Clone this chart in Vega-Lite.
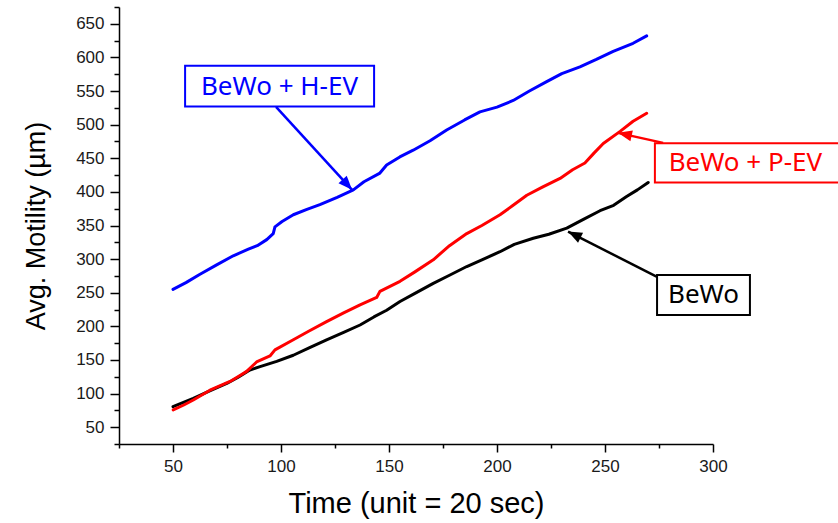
{
  "$schema": "https://vega.github.io/schema/vega-lite/v6.json",
  "width": 594,
  "height": 437,
  "autosize": "none",
  "padding": {"left": 119, "top": 7, "right": 125, "bottom": 79},
  "background": "white",
  "config": {
    "view": {"stroke": null},
    "axis": {
      "grid": false,
      "domainColor": "black",
      "domainWidth": 1.5,
      "tickColor": "black",
      "tickWidth": 1.5,
      "labelFont": "Liberation Sans",
      "labelFontSize": 17,
      "labelColor": "#1a1a1a",
      "labelOverlap": false,
      "titleFont": "Liberation Sans",
      "titleFontWeight": "normal",
      "titleColor": "black"
    }
  },
  "resolve": {"axis": {"x": "independent", "y": "independent"}},
  "datasets": {
    "series": [
      {"series": "BeWo", "t": 50, "v": 80.5},
      {"series": "BeWo", "t": 59.4, "v": 93},
      {"series": "BeWo", "t": 67, "v": 104},
      {"series": "BeWo", "t": 74.9, "v": 115},
      {"series": "BeWo", "t": 80, "v": 124},
      {"series": "BeWo", "t": 85.6, "v": 135},
      {"series": "BeWo", "t": 90.3, "v": 140},
      {"series": "BeWo", "t": 98, "v": 148},
      {"series": "BeWo", "t": 105.7, "v": 157},
      {"series": "BeWo", "t": 113, "v": 168},
      {"series": "BeWo", "t": 121.1, "v": 180},
      {"series": "BeWo", "t": 129, "v": 191},
      {"series": "BeWo", "t": 136.6, "v": 202},
      {"series": "BeWo", "t": 143, "v": 214},
      {"series": "BeWo", "t": 148.9, "v": 224},
      {"series": "BeWo", "t": 155.1, "v": 237},
      {"series": "BeWo", "t": 162, "v": 249},
      {"series": "BeWo", "t": 170.5, "v": 264},
      {"series": "BeWo", "t": 178, "v": 276},
      {"series": "BeWo", "t": 186, "v": 289},
      {"series": "BeWo", "t": 193, "v": 299},
      {"series": "BeWo", "t": 201.4, "v": 311},
      {"series": "BeWo", "t": 208, "v": 322},
      {"series": "BeWo", "t": 216.8, "v": 331},
      {"series": "BeWo", "t": 224, "v": 337},
      {"series": "BeWo", "t": 232.3, "v": 346},
      {"series": "BeWo", "t": 240, "v": 359},
      {"series": "BeWo", "t": 247.7, "v": 372},
      {"series": "BeWo", "t": 254, "v": 380},
      {"series": "BeWo", "t": 260, "v": 393},
      {"series": "BeWo", "t": 265, "v": 403},
      {"series": "BeWo", "t": 270, "v": 414},
      {"series": "BeWo + P-EV", "t": 50.1, "v": 75.6},
      {"series": "BeWo + P-EV", "t": 55, "v": 83},
      {"series": "BeWo + P-EV", "t": 59.4, "v": 90.5},
      {"series": "BeWo + P-EV", "t": 67.1, "v": 105},
      {"series": "BeWo + P-EV", "t": 76.4, "v": 118},
      {"series": "BeWo + P-EV", "t": 81, "v": 127},
      {"series": "BeWo + P-EV", "t": 84.1, "v": 133},
      {"series": "BeWo + P-EV", "t": 88.7, "v": 147},
      {"series": "BeWo + P-EV", "t": 94.9, "v": 156},
      {"series": "BeWo + P-EV", "t": 97.2, "v": 165},
      {"series": "BeWo + P-EV", "t": 105.7, "v": 180},
      {"series": "BeWo + P-EV", "t": 113, "v": 193},
      {"series": "BeWo + P-EV", "t": 121.1, "v": 207},
      {"series": "BeWo + P-EV", "t": 129, "v": 220},
      {"series": "BeWo + P-EV", "t": 136.6, "v": 232},
      {"series": "BeWo + P-EV", "t": 144.3, "v": 243},
      {"series": "BeWo + P-EV", "t": 145.8, "v": 252},
      {"series": "BeWo + P-EV", "t": 155.1, "v": 267},
      {"series": "BeWo + P-EV", "t": 162, "v": 281},
      {"series": "BeWo + P-EV", "t": 170.5, "v": 299},
      {"series": "BeWo + P-EV", "t": 178, "v": 320},
      {"series": "BeWo + P-EV", "t": 186, "v": 338},
      {"series": "BeWo + P-EV", "t": 193, "v": 350},
      {"series": "BeWo + P-EV", "t": 201.4, "v": 366},
      {"series": "BeWo + P-EV", "t": 207, "v": 379},
      {"series": "BeWo + P-EV", "t": 213.8, "v": 395},
      {"series": "BeWo + P-EV", "t": 221, "v": 407},
      {"series": "BeWo + P-EV", "t": 229.2, "v": 420},
      {"series": "BeWo + P-EV", "t": 235, "v": 433},
      {"series": "BeWo + P-EV", "t": 240.7, "v": 443},
      {"series": "BeWo + P-EV", "t": 245, "v": 458},
      {"series": "BeWo + P-EV", "t": 249.2, "v": 472},
      {"series": "BeWo + P-EV", "t": 257, "v": 490},
      {"series": "BeWo + P-EV", "t": 263, "v": 505},
      {"series": "BeWo + P-EV", "t": 269.3, "v": 517},
      {"series": "BeWo + H-EV", "t": 50, "v": 255},
      {"series": "BeWo + H-EV", "t": 56, "v": 265},
      {"series": "BeWo + H-EV", "t": 62.5, "v": 277.5},
      {"series": "BeWo + H-EV", "t": 70, "v": 291},
      {"series": "BeWo + H-EV", "t": 77.9, "v": 305},
      {"series": "BeWo + H-EV", "t": 84.9, "v": 314.7},
      {"series": "BeWo + H-EV", "t": 89, "v": 320},
      {"series": "BeWo + H-EV", "t": 93.4, "v": 329},
      {"series": "BeWo + H-EV", "t": 96.4, "v": 338},
      {"series": "BeWo + H-EV", "t": 97.2, "v": 348},
      {"series": "BeWo + H-EV", "t": 100.5, "v": 356},
      {"series": "BeWo + H-EV", "t": 105.7, "v": 366},
      {"series": "BeWo + H-EV", "t": 112, "v": 374},
      {"series": "BeWo + H-EV", "t": 118, "v": 381},
      {"series": "BeWo + H-EV", "t": 126, "v": 392},
      {"series": "BeWo + H-EV", "t": 133.5, "v": 403},
      {"series": "BeWo + H-EV", "t": 138.4, "v": 415},
      {"series": "BeWo + H-EV", "t": 145.8, "v": 428},
      {"series": "BeWo + H-EV", "t": 148.9, "v": 440},
      {"series": "BeWo + H-EV", "t": 155, "v": 452},
      {"series": "BeWo + H-EV", "t": 161.2, "v": 462},
      {"series": "BeWo + H-EV", "t": 169, "v": 476},
      {"series": "BeWo + H-EV", "t": 176.7, "v": 492},
      {"series": "BeWo + H-EV", "t": 185, "v": 507},
      {"series": "BeWo + H-EV", "t": 192.1, "v": 519},
      {"series": "BeWo + H-EV", "t": 200, "v": 526},
      {"series": "BeWo + H-EV", "t": 207.5, "v": 536},
      {"series": "BeWo + H-EV", "t": 215, "v": 550},
      {"series": "BeWo + H-EV", "t": 223, "v": 564},
      {"series": "BeWo + H-EV", "t": 230, "v": 576},
      {"series": "BeWo + H-EV", "t": 238.4, "v": 586},
      {"series": "BeWo + H-EV", "t": 246, "v": 597},
      {"series": "BeWo + H-EV", "t": 253.8, "v": 609},
      {"series": "BeWo + H-EV", "t": 263, "v": 621},
      {"series": "BeWo + H-EV", "t": 269.3, "v": 632}
    ],
    "notes": [
      {"series": "BeWo + H-EV", "label": "BeWo + H-EV", "bx1": 55.6, "bx2": 143.1, "by1": 527, "by2": 587.5, "lx": 99.3, "ly": 556, "ax1": 97.7, "ay1": 526.5, "ax2": 132.9, "ay2": 403},
      {"series": "BeWo + P-EV", "label": "BeWo + P-EV", "bx1": 273.1, "bx2": 365, "by1": 413.8, "by2": 472.5, "lx": 315, "ly": 443, "ax1": 276.9, "ay1": 472.9, "ax2": 256, "ay2": 487.8},
      {"series": "BeWo", "label": "BeWo", "bx1": 274.1, "bx2": 317.1, "by1": 217, "by2": 276.5, "lx": 295.6, "ly": 246.7, "ax1": 274.1, "ay1": 273.5, "ax2": 232.9, "ay2": 341}
    ]
  },
  "layer": [
    {
      "data": {"name": "series"},
      "mark": {"type": "line", "strokeWidth": 3, "strokeJoin": "round", "strokeCap": "round"},
      "encoding": {
        "x": {
          "field": "t", "type": "quantitative",
          "scale": {"domain": [25, 300], "nice": false, "zero": false},
          "axis": {
            "orient": "bottom",
            "title": "Time (unit = 20 sec)",
            "titleFontSize": 29,
            "values": [50, 100, 150, 200, 250, 300],
            "tickSize": 8,
            "labelPadding": 6,
            "titlePadding": 15,
            "labelFlush": false
          }
        },
        "y": {
          "field": "v", "type": "quantitative",
          "scale": {"domain": [25, 675], "nice": false, "zero": false},
          "axis": {
            "orient": "left",
            "title": "Avg. Motility (µm)",
            "titleFontSize": 27,
            "values": [50, 100, 150, 200, 250, 300, 350, 400, 450, 500, 550, 600, 650],
            "tickSize": 9,
            "labelPadding": 6,
            "titlePadding": 25,
            "labelFlush": false
          }
        },
        "color": {
          "field": "series", "type": "nominal",
          "scale": {"domain": ["BeWo", "BeWo + P-EV", "BeWo + H-EV"], "range": ["#000000", "#ff0000", "#0000ff"]},
          "legend": null
        }
      }
    },
    {
      "data": {"name": "notes"},
      "mark": {"type": "rect", "filled": false, "strokeWidth": 2},
      "encoding": {
        "x": {"field": "bx1", "type": "quantitative", "axis": {"orient": "bottom", "values": [25, 75, 125, 175, 225, 275], "tickSize": 4, "labels": false, "domain": false, "title": null}},
        "x2": {"field": "bx2"},
        "y": {"field": "by1", "type": "quantitative", "axis": {"orient": "left", "values": [25, 75, 125, 175, 225, 275, 325, 375, 425, 475, 525, 575, 625, 675], "tickSize": 5, "labels": false, "domain": false, "title": null}},
        "y2": {"field": "by2"},
        "color": {"field": "series", "type": "nominal", "legend": null}
      }
    },
    {
      "data": {"name": "notes"},
      "mark": {"type": "text", "font": "Noto Sans", "fontSize": 26, "align": "center", "baseline": "middle"},
      "encoding": {
        "x": {"field": "lx", "type": "quantitative", "axis": null},
        "y": {"field": "ly", "type": "quantitative", "axis": null},
        "text": {"field": "label"},
        "color": {"field": "series", "type": "nominal", "legend": null}
      }
    },
    {
      "data": {"name": "notes"},
      "mark": {"type": "rule", "strokeWidth": 2.5},
      "encoding": {
        "x": {"field": "ax1", "type": "quantitative", "axis": null},
        "x2": {"field": "ax2"},
        "y": {"field": "ay1", "type": "quantitative", "axis": null},
        "y2": {"field": "ay2"},
        "color": {"field": "series", "type": "nominal", "legend": null}
      }
    },
    {
      "data": {"name": "notes"},
      "transform": [{"filter": "datum.series === 'BeWo + H-EV'"}],
      "mark": {"type": "point", "filled": true, "opacity": 1, "size": 784, "shape": "M0,0L-0.4,1L0.4,1Z", "angle": 137.5},
      "encoding": {
        "x": {"field": "ax2", "type": "quantitative", "axis": null},
        "y": {"field": "ay2", "type": "quantitative", "axis": null},
        "color": {"field": "series", "type": "nominal", "legend": null}
      }
    },
    {
      "data": {"name": "notes"},
      "transform": [{"filter": "datum.series === 'BeWo + P-EV'"}],
      "mark": {"type": "point", "filled": true, "opacity": 1, "size": 784, "shape": "M0,0L-0.4,1L0.4,1Z", "angle": 282.5},
      "encoding": {
        "x": {"field": "ax2", "type": "quantitative", "axis": null},
        "y": {"field": "ay2", "type": "quantitative", "axis": null},
        "color": {"field": "series", "type": "nominal", "legend": null}
      }
    },
    {
      "data": {"name": "notes"},
      "transform": [{"filter": "datum.series === 'BeWo'"}],
      "mark": {"type": "point", "filled": true, "opacity": 1, "size": 784, "shape": "M0,0L-0.4,1L0.4,1Z", "angle": 296.8},
      "encoding": {
        "x": {"field": "ax2", "type": "quantitative", "axis": null},
        "y": {"field": "ay2", "type": "quantitative", "axis": null},
        "color": {"field": "series", "type": "nominal", "legend": null}
      }
    }
  ]
}
